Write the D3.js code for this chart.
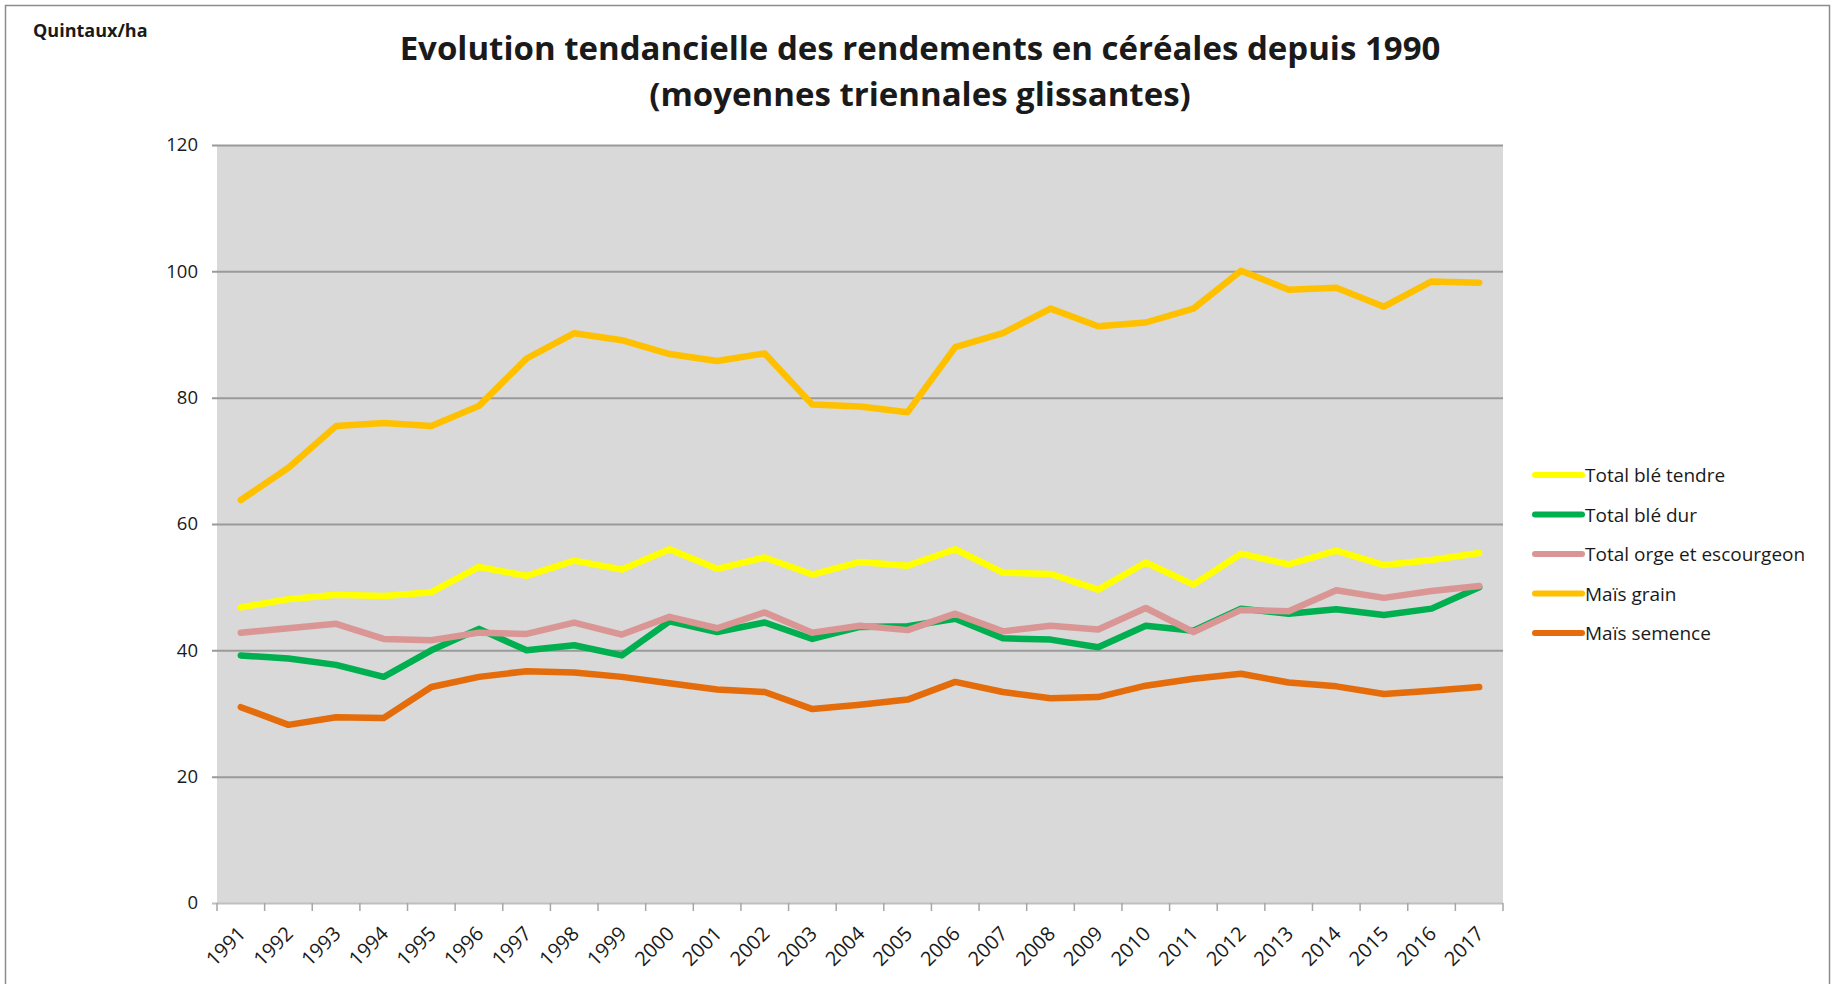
<!DOCTYPE html>
<html>
<head>
<meta charset="utf-8">
<script src="https://cdn.jsdelivr.net/npm/d3@7/dist/d3.min.js"></script>
<style>
    body { margin: 0; background: #fff; }
    svg text { font-family: "Open Sans", sans-serif; fill: #1a1a1a; }
</style>
</head>
<body>
<svg id="chart" width="1835" height="984"></svg>
<script>
// years on the x axis
var years = ["1991", "1992", "1993", "1994", "1995", "1996", "1997", "1998", "1999", "2000", "2001", "2002", "2003",
    "2004", "2005", "2006", "2007", "2008", "2009", "2010", "2011", "2012", "2013", "2014", "2015", "2016", "2017"];

// values (quintaux/ha)
var bleTendre = [46.8, 48.1, 48.8, 48.6, 49.2, 53.2, 51.8, 54.2, 52.8, 56.0, 52.9, 54.7, 52.0, 54.0, 53.4, 56.0,
    52.3, 52.1, 49.6, 53.9, 50.4, 55.3, 53.6, 55.8, 53.5, 54.3, 55.4];
var bleDur = [39.2, 38.7, 37.7, 35.8, 40.0, 43.4, 40.0, 40.8, 39.2, 44.6, 42.9, 44.4, 41.8, 43.7, 43.8, 45.0,
    41.9, 41.7, 40.5, 43.9, 43.1, 46.6, 45.8, 46.5, 45.6, 46.6, 50.0];
var orge = [42.8, 43.5, 44.2, 41.8, 41.6, 42.8, 42.6, 44.4, 42.5, 45.3, 43.5, 46.0, 42.8, 43.9, 43.2, 45.8,
    43.0, 43.9, 43.3, 46.7, 42.9, 46.4, 46.2, 49.5, 48.3, 49.4, 50.2];
var maisGrain = [63.8, 68.9, 75.5, 76.0, 75.5, 78.7, 86.2, 90.2, 89.1, 86.9, 85.8, 87.0, 78.9, 78.6, 77.7, 88.0,
    90.2, 94.1, 91.3, 91.9, 94.1, 100.1, 97.1, 97.4, 94.4, 98.4, 98.2];
var maisSemence = [31.0, 28.2, 29.4, 29.3, 34.2, 35.8, 36.7, 36.5, 35.8, 34.8, 33.8, 33.4, 30.7, 31.4, 32.2, 35.0,
    33.4, 32.4, 32.6, 34.4, 35.5, 36.3, 34.9, 34.3, 33.1, 33.6, 34.2];

var seriesNames = ["Total blé tendre", "Total blé dur", "Total orge et escourgeon", "Maïs grain", "Maïs semence"];
var seriesColors = ["#ffff00", "#00b050", "#da9694", "#ffc000", "#e46c0a"];
var yTicks = [0, 20, 40, 60, 80, 100, 120];

var seriesValues = [bleTendre, bleDur, orge, maisGrain, maisSemence];

var svg = d3.select("#chart");

// frame around the whole chart
svg.append("rect")
    .attr("x", 5.5).attr("y", 5.5)
    .attr("width", 1824).attr("height", 1000)
    .attr("fill", "none")
    .attr("stroke", "#8c8c8c")
    .attr("stroke-width", 1.5);

// plot area edges (note: "top" is reserved on window, so use other names)
var plotLeft = 217, plotRight = 1503, plotTop = 145, plotBottom = 903;

var x = d3.scaleBand().domain(years).range([plotLeft, plotRight]);
var y = d3.scaleLinear().domain([0, 120]).range([plotBottom, plotTop]);

// plot background
svg.append("rect")
    .attr("x", plotLeft).attr("y", plotTop)
    .attr("width", plotRight - plotLeft).attr("height", plotBottom - plotTop)
    .attr("fill", "#d9d9d9");

// gridlines + y labels
var yAxis = d3.axisLeft(y)
    .tickValues(yTicks)
    .tickSize(-(plotRight - plotLeft + 5))
    .tickPadding(14)
    .tickFormat(d3.format("d"));

var gy = svg.append("g")
    .attr("class", "axis y-axis")
    .attr("transform", "translate(" + (plotLeft - 5) + ",0)")
    .call(yAxis);
gy.select(".domain").remove();
gy.selectAll(".tick line")
    .attr("stroke", function (d) { return d === 0 ? "#bfbfbf" : "#9a9a9a"; })
    .attr("stroke-width", 2);
gy.selectAll(".tick text")
    .attr("x", -14)
    .style("font-size", "18.5px")
    .attr("fill", "#1a1a1a");

// x axis: ticks between categories, labels at the centre
var gx = svg.append("g")
    .attr("class", "axis x-axis")
    .attr("transform", "translate(0," + plotBottom + ")");

gx.selectAll("line.tick-mark")
    .data(years.concat(["end"]))
    .enter()
    .append("line")
    .attr("class", "tick-mark")
    .attr("x1", function (d) { return d === "end" ? plotRight : x(d); })
    .attr("x2", function (d) { return d === "end" ? plotRight : x(d); })
    .attr("y1", 0).attr("y2", 8)
    .attr("stroke", "#a6a6a6")
    .attr("stroke-width", 1.5);

gx.selectAll("text")
    .data(years)
    .enter()
    .append("text")
    .attr("transform", function (d) {
        return "translate(" + (x(d) + x.bandwidth() / 2 + 6) + ",32) rotate(-45)";
    })
    .attr("text-anchor", "end")
    .style("font-size", "20px")
    .text(function (d) { return d; });

// the five lines
var line = d3.line()
    .x(function (d, i) { return x(years[i]) + x.bandwidth() / 2; })
    .y(function (d) { return y(d); });

svg.selectAll("path.serie")
    .data(seriesValues)
    .enter()
    .append("path")
    .attr("class", "serie")
    .attr("d", line)
    .attr("fill", "none")
    .attr("stroke", function (d, i) { return seriesColors[i]; })
    .attr("stroke-width", 6.5)
    .attr("stroke-linejoin", "round")
    .attr("stroke-linecap", "round");

// legend
var legend = svg.append("g")
    .attr("class", "legend")
    .attr("transform", "translate(1535,475)");

var item = legend.selectAll("g")
    .data(seriesNames)
    .enter()
    .append("g")
    .attr("transform", function (d, i) { return "translate(0," + (i * 39.5) + ")"; });

item.append("line")
    .attr("x1", 0).attr("x2", 47)
    .attr("stroke", function (d, i) { return seriesColors[i]; })
    .attr("stroke-width", 6)
    .attr("stroke-linecap", "round");

item.append("text")
    .attr("x", 50)
    .attr("y", 7)
    .style("font-size", "19px")
    .text(function (d) { return d; });

// titles
svg.append("text")
    .attr("x", 33).attr("y", 37)
    .style("font-size", "18px")
    .style("font-weight", "bold")
    .text("Quintaux/ha");

svg.append("text")
    .attr("x", 920).attr("y", 60)
    .attr("text-anchor", "middle")
    .style("font-size", "33px")
    .style("font-weight", "bold")
    .text("Evolution tendancielle des rendements en céréales depuis 1990");

svg.append("text")
    .attr("x", 920).attr("y", 106)
    .attr("text-anchor", "middle")
    .style("font-size", "33px")
    .style("font-weight", "bold")
    .text("(moyennes triennales glissantes)");
</script>
</body>
</html>
